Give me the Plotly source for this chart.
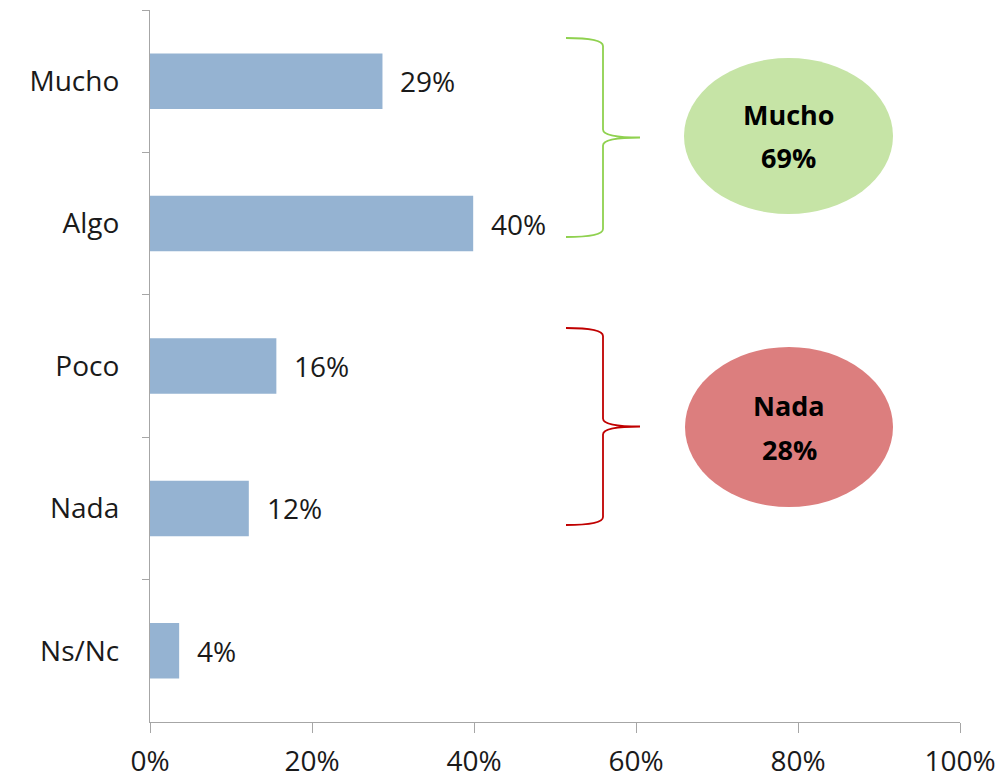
import plotly.graph_objects as go

categories = ["Mucho", "Algo", "Poco", "Nada", "Ns/Nc"]
values = [28.7, 39.9, 15.6, 12.2, 3.6]
labels = ["29%", "40%", "16%", "12%", "4%"]
tick_vals = [0, 20, 40, 60, 80, 100]
tick_text = ["0%", "20%", "40%", "60%", "80%", "100%"]
group_names = ["Mucho", "Nada"]
group_values = ["69%", "28%"]

FONT = "Open Sans, Lato, sans-serif"
AX = "#A6A6A6"

fig = go.Figure()
fig.add_trace(go.Bar(
    y=categories, x=values, orientation="h",
    marker=dict(color="#95B3D2", line=dict(width=0)),
    width=0.39, hoverinfo="skip",
))

for c, v, t in zip(categories, values, labels):
    fig.add_annotation(x=v, y=c, text=t, showarrow=False, xanchor="left",
                       xshift=16, font=dict(family=FONT, size=28, color="#1a1a1a"))

W, H = 810.0, 712.0
def px(x):
    return (x - 150) / W
def py(y):
    return (722 - y) / H

def brace(x0, xv, xt, ytop, ybot, color):
    ym = (ytop + ybot) / 2
    pts = [
        f"M {px(x0)},{py(ytop)}",
        f"Q {px(xv)},{py(ytop)} {px(xv)},{py(ytop+8)}",
        f"L {px(xv)},{py(ym-8)}",
        f"Q {px(xv)},{py(ym)} {px(xt)},{py(ym)}",
        f"Q {px(xv)},{py(ym)} {px(xv)},{py(ym+8)}",
        f"L {px(xv)},{py(ybot-8)}",
        f"Q {px(xv)},{py(ybot)} {px(x0)},{py(ybot)}",
    ]
    fig.add_shape(type="path", path=" ".join(pts), xref="paper", yref="paper",
                  line=dict(color=color, width=1.8))

brace(566, 603, 640, 38, 237, "#8FD14F")
brace(566, 603, 640, 328, 525, "#C00000")

ellipses = [(684, 893, 58, 214, "#C6E4A6"), (685, 893, 347, 507, "#DC7E7E")]
for (x0, x1, y0, y1, col), name, val in zip(ellipses, group_names, group_values):
    fig.add_shape(type="circle", xref="paper", yref="paper",
                  x0=px(x0), x1=px(x1), y0=py(y1), y1=py(y0),
                  fillcolor=col, line=dict(width=0), layer="below")
    cx = px((x0 + x1) / 2)
    cy = (y0 + y1) / 2
    fig.add_annotation(xref="paper", yref="paper", x=cx, y=py(cy - 22),
                       xanchor="center", yanchor="middle",
                       text=f"<b>{name}</b>", showarrow=False,
                       font=dict(family=FONT, size=27, color="#000"))
    fig.add_annotation(xref="paper", yref="paper", x=cx, y=py(cy + 22),
                       xanchor="center", yanchor="middle",
                       text=f"<b>{val}</b>", showarrow=False,
                       font=dict(family=FONT, size=27, color="#000"))

fig.update_layout(
    width=1001, height=778,
    margin=dict(l=150, r=41, t=10, b=56, autoexpand=False),
    paper_bgcolor="white", plot_bgcolor="white",
    showlegend=False, bargap=0.6,
    font=dict(family=FONT, size=28, color="#1a1a1a"),
)
fig.update_xaxes(range=[0, 100], tickvals=tick_vals, ticktext=tick_text, automargin=False,
                 showgrid=False, zeroline=False, showline=True, linecolor=AX, linewidth=1.3,
                 ticks="outside", ticklen=10, tickcolor=AX, tickwidth=1.3, ticklabelstandoff=4,
                 tickfont=dict(family=FONT, size=28, color="#1a1a1a"))
fig.update_yaxes(range=[4.5, -0.5], showgrid=False, zeroline=False, showline=True, automargin=False,
                 linecolor=AX, linewidth=1.3, ticks="outside", ticklen=7, tickcolor=AX,
                 tickwidth=1.3, tickson="boundaries", ticklabelstandoff=24,
                 tickfont=dict(family=FONT, size=28, color="#1a1a1a"))

fig.write_html("out.html")
